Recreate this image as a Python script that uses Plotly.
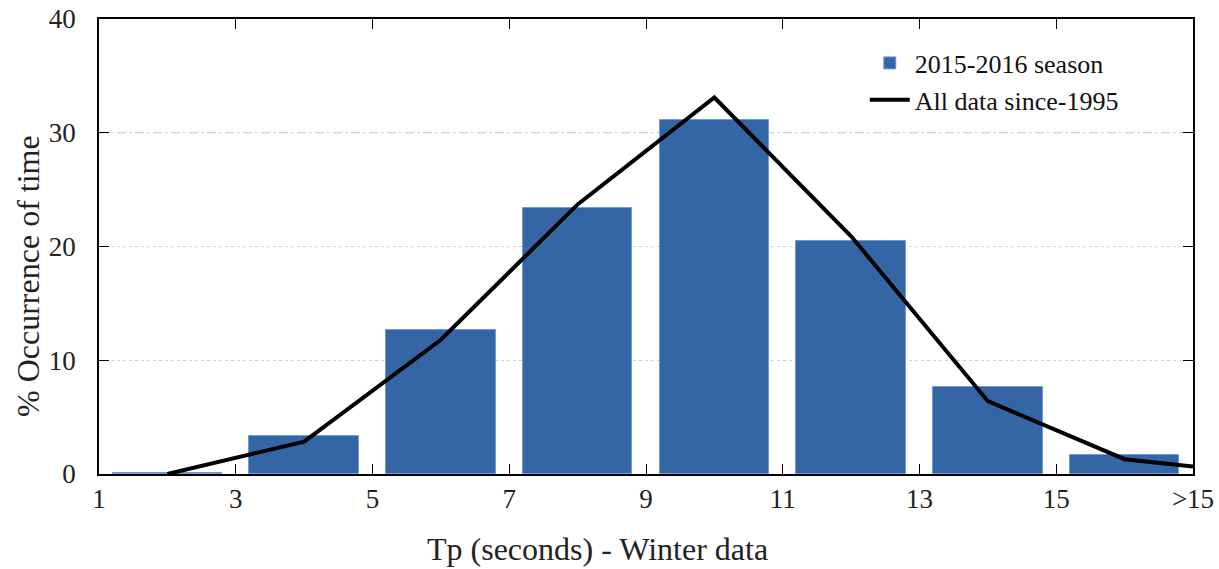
import plotly.graph_objects as go

# Data
bar_x = [2, 4, 6, 8, 10, 12, 14, 16]
season_pct = [0.1, 3.35, 12.65, 23.4, 31.1, 20.5, 7.65, 1.65]
line_x = [2, 4, 6, 8, 10, 12, 14, 16, 17]
all_data_pct = [0.0, 2.85, 11.8, 23.7, 33.1, 20.9, 6.4, 1.3, 0.65]
tick_vals = [1, 3, 5, 7, 9, 11, 13, 15, 17]
tick_text = ["1", "3", "5", "7", "9", "11", "13", "15", ">15"]
x_title = "Tp (seconds) - Winter data"
y_title = "% Occurrence of time"

FONT = "Liberation Serif"

fig = go.Figure()
fig.add_trace(go.Bar(
    x=bar_x, y=season_pct, width=1.6, name="2015-2016 season",
    marker=dict(color="#3465a4", line=dict(color="#6f9bd6", width=1)),
))
fig.add_trace(go.Scatter(
    x=line_x, y=all_data_pct, mode="lines", name="All data since-1995",
    line=dict(color="black", width=4),
))

fig.add_hline(y=30, line=dict(color="#c8c8c8", width=1, dash="dash"), layer="below")

fig.update_layout(
    width=1219, height=569,
    margin=dict(l=99, r=26, t=19, b=95, autoexpand=False),
    plot_bgcolor="white", paper_bgcolor="white",
    font=dict(family=FONT, size=27, color="#222"),
    showlegend=True,
    legend=dict(x=0.70, y=0.955, xanchor="left", yanchor="top",
                bgcolor="rgba(0,0,0,0)", font=dict(family=FONT, size=26, color="#111"),
                tracegroupgap=0, itemwidth=40),
    bargap=0,
    annotations=[
        dict(text=x_title, xref="paper", yref="paper", x=0.456, y=-0.165,
             xanchor="center", yanchor="middle", showarrow=False,
             font=dict(family=FONT, size=32, color="#222")),
        dict(text=y_title, xref="paper", yref="paper", x=-0.065, y=0.435,
             xanchor="center", yanchor="middle", showarrow=False, textangle=-90,
             font=dict(family=FONT, size=32, color="#222")),
    ],
)
fig.update_xaxes(
    range=[1, 17], tickmode="array", tickvals=tick_vals, ticktext=tick_text,
    showline=True, linecolor="black", linewidth=1.5, mirror="ticks",
    ticks="inside", ticklen=10, tickcolor="black", showgrid=False, zeroline=False,
    automargin=False, tickfont=dict(family=FONT, size=27),
)
fig.update_yaxes(
    range=[0, 40], tickvals=[0, 10, 20, 30, 40],
    showline=True, linecolor="black", linewidth=1.5, mirror="ticks",
    ticks="inside", ticklen=10, tickcolor="black",
    showgrid=True, gridcolor="#d0d0d0", griddash="dot", gridwidth=1, zeroline=False,
    automargin=False, ticklabelstandoff=16, tickfont=dict(family=FONT, size=27),
)

fig.write_html("out.html")
